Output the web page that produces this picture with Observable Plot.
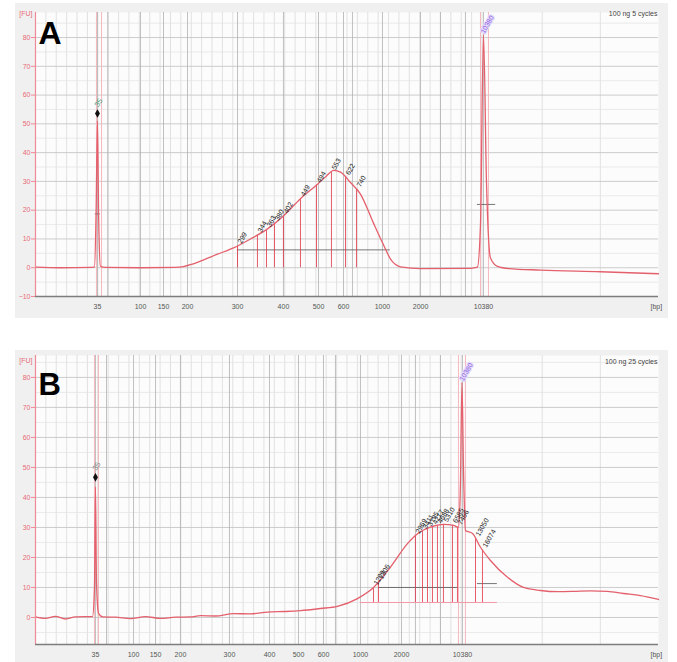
<!DOCTYPE html>
<html><head><meta charset="utf-8">
<script src="https://cdn.jsdelivr.net/npm/d3@7"></script>
<script src="https://cdn.jsdelivr.net/npm/@observablehq/plot@0.6"></script>
<style>
body{margin:0;background:#fff;font-family:"Liberation Sans",Arial,sans-serif}
#root{position:relative;width:677px;height:662px;overflow:hidden;background:#fff}
.bg{position:absolute;background:#f0f0f0}
.panel{position:absolute;left:0}
</style></head><body>
<div id="root">
<div class="bg" style="left:15px;top:3px;width:653px;height:315px"></div>
<div class="bg" style="left:15px;top:350px;width:653px;height:312px"></div>
<div class="panel" id="A" style="top:0"></div>
<div class="panel" id="B" style="top:340px"></div>
</div>
<script>
// ---------- data ----------
const xDomain = [38, 113]; // migration time [s]
const ladderBp = [35, 50, 100, 150, 200, 300, 400, 500, 600, 700, 1000, 2000, 3000, 7000, 10380];
const labeledBp = [35, 100, 150, 200, 300, 400, 500, 600, 1000, 2000, 10380];
const ladderTimeA = [45.46, 46.7, 50.64, 53.41, 56.30, 62.32, 67.85, 72.07, 75.08, 76.16, 79.77, 84.35, 86.75, 89.76, 91.93];
const ladderTimeB = [45.22, 46.55, 49.80, 52.45, 55.45, 61.35, 66.17, 69.66, 72.67, 74.11, 77.12, 82.06, 83.74, 86.75, 89.40];

const yDomainA = [-10, 88.7];
const yDomainB = [-9, 87.3];
const yTicksA = [-10, 0, 10, 20, 30, 40, 50, 60, 70, 80];
const yTicksB = [0, 10, 20, 30, 40, 50, 60, 70, 80];

const timeA = [38.0, 41.0, 44.6, 45.1, 45.3, 45.46, 45.6, 45.82, 46.4, 50.6, 54.8, 55.8, 56.8, 57.86, 59.91, 61.84, 63.88, 65.93, 67.85, 69.9, 71.95, 73.0, 73.9, 74.72, 75.92, 77.12, 78.69, 79.89, 80.74, 81.3, 81.94, 84.35, 90.4, 91.2, 91.57, 91.93, 92.29, 92.77, 93.62, 95.0, 98.8, 106.0, 113.0];
const fuA   = [0.2, 0.0, 0.1, 0.3, 20, 51, 18, 0.5, 0.1, 0.0, 0.1, 0.4, 1.2, 2.3, 4.7, 6.9, 10, 13.5, 18, 24, 29, 31.8, 33.8, 33.2, 29.6, 25.6, 15.5, 8, 3, 1.2, 0.3, -0.3, -0.2, 0.2, 15, 81, 30, 3.4, 0.5, -0.3, -0.8, -1.4, -2.1];

const timeB = [38.0, 39.2, 40.4, 41.6, 42.8, 44.0, 44.86, 45.1, 45.22, 45.34, 45.58, 46.07, 47.63, 49.44, 51.24, 53.05, 54.85, 56.66, 57.86, 59.67, 61.84, 63.88, 65.93, 68.09, 69.9, 72.31, 74.35, 76.76, 78.69, 80.74, 82.78, 83.99, 85.55, 87.11, 88.32, 88.92, 89.16, 89.34, 89.52, 89.76, 90.61, 91.57, 92.77, 94.82, 96.75, 98.79, 100.84, 102.76, 104.81, 106.86, 108.78, 110.83, 113.0];
const fuB   = [0.2, -0.3, 0.4, -0.5, 0.2, 0.3, 0.3, 10, 43.5, 12, 1.5, 0.2, 0.1, -0.4, 0.3, -0.3, 0.1, 0.2, 0.6, 0.5, 1.3, 1.2, 1.8, 2.0, 2.3, 3.0, 3.7, 6.3, 10, 16.8, 24.6, 27.9, 30.1, 31, 30.7, 30, 45, 78.3, 50, 29, 28, 23.4, 19, 13.4, 10, 9, 8.6, 8.7, 8.9, 8.7, 8, 7.3, 6];

const peakTimeA  = [62.32, 64.72, 65.81, 66.77, 67.85, 69.90, 71.83, 73.63, 75.32, 76.64];
const peakLabelA = ["299", "344", "363", "380", "402", "449", "494", "553", "622", "740"];
const peakTimeB  = [78.69, 79.29, 83.74, 84.59, 85.19, 85.79, 86.39, 87.11, 88.20, 88.80, 90.97, 91.81];
const peakLabelB = ["1209", "1306", "2969", "3411", "3795", "4217", "4688", "5310", "6585", "7466", "13050", "16074"];

const regionsA = [{t1: 62.3, t2: 80.7, fu: 6.2}, {t1: 45.2, t2: 45.8, fu: 18.7}, {t1: 91.2, t2: 93.4, fu: 22}];
const regionsB = [{t1: 79.3, t2: 88.8, fu: 10}, {t1: 91.2, t2: 93.6, fu: 11.3}];
const pinkRegionB = [{t1: 77.1, t2: 93.6, fu: 5}];
const pinkLinesA = [45.34, 45.95, 91.57, 92.53];
const pinkLinesB = [45.1, 45.58, 88.92, 89.76];

const markerFuA = 53.6, markerFuB = 46.7;
const samples = ["100 ng 5 cycles", "100 ng 25 cycles"];

// ---------- helpers ----------
const interp = (ts, vs) => t => {
  const i = Math.max(1, d3.bisectLeft(ts, t));
  const a = (t - ts[i - 1]) / (ts[i] - ts[i - 1]);
  return vs[i - 1] + a * (vs[i] - vs[i - 1]);
};
const PINK = "#ef8a96", RED = "#e4606c", DARK = "#e03446";

function panel(o) {
  const trace = o.time.map((t, i) => ({t, fu: o.fu[i]}));
  const f = interp(o.time, o.fu);
  const peaks = o.peakTimes.map((t, i) => ({t, fu: f(t), label: o.peakLabels[i]}));
  const ladder = ladderBp.map((bp, i) => ({bp, t: o.ladderTime[i]}));
  const labeled = ladder.filter(d => labeledBp.includes(d.bp));
  const lastT = o.ladderTime[o.ladderTime.length - 1];
  const minorX = d3.range(xDomain[0], lastT + 0.5, 1.25).concat([99, 106]);
  const minorY = d3.range(-5, o.yDomain[1], 5).filter(v => v > o.yDomain[0] && v % 10 !== 0);
  const majorY = d3.range(-10, o.yDomain[1], 10).filter(v => v >= o.yDomain[0]);
  return Plot.plot({
    width: 677, height: o.height,
    marginLeft: 35, marginRight: 19, marginTop: o.mt, marginBottom: o.mb,
    x: {domain: xDomain, axis: null},
    y: {domain: o.yDomain, axis: null},
    style: {background: "transparent", fontFamily: "Liberation Sans, Arial, sans-serif"},
    marks: [
      Plot.frame({fill: "#fcfcfc", stroke: "none"}),
      Plot.ruleX(minorX, {stroke: "#d6d6d6", strokeWidth: 0.7}),
      Plot.ruleY(minorY, {stroke: "#e2e2e2", strokeWidth: 0.7}),
      Plot.ruleY(majorY, {stroke: "#c6c6c6", strokeWidth: 0.9}),
      Plot.ruleX(o.ladderTime, {stroke: "#b0b0b0", strokeWidth: 0.8}),
      Plot.ruleX(o.pinkLines, {stroke: "#f4b0b8", strokeWidth: 0.9}),
      ...(o.pinkRegion ? [Plot.ruleY(o.pinkRegion, {x1: "t1", x2: "t2", y: "fu", stroke: "#f09aa4", strokeWidth: 1})] : []),
      Plot.ruleY(o.regions, {x1: "t1", x2: "t2", y: "fu", stroke: "#555", strokeWidth: 0.8}),
      Plot.ruleX(peaks, {x: "t", y1: o.peakBase, y2: "fu", stroke: DARK, strokeWidth: 0.8}),
      Plot.line(trace, {x: "t", y: "fu", stroke: RED, strokeWidth: 1.3, curve: "monotone-x"}),
      Plot.text(peaks, {x: "t", y: "fu", text: "label", rotate: -60, textAnchor: "start", dx: 2, dy: -3, fontSize: 7, fill: "#222"}),
      Plot.dot([{t: o.ladderTime[0], fu: o.markerFu}], {x: "t", y: "fu", symbol: "diamond", r: 2.6, fill: "#111"}),
      Plot.text([{t: o.ladderTime[0], fu: o.markerFu + 2.5}], {x: "t", y: "fu", text: () => "35", rotate: -60, textAnchor: "start", dx: -1, fontSize: 7.5, fill: o.markerColor}),
      Plot.text([{t: lastT, fu: o.upperFu}], {x: "t", y: "fu", text: () => "10380", rotate: -60, textAnchor: "start", dx: -1, fontSize: 7, fill: "#8d5fe0", stroke: "#e6dcfb", strokeWidth: 2.5, paintOrder: "stroke"}),
      // axes
      Plot.ruleX([xDomain[0]], {stroke: PINK, strokeWidth: 1.2}),
      Plot.ruleY([o.yDomain[0]], {stroke: "#7d7d7d", strokeWidth: 1.4}),
      Plot.axisY({ticks: o.yTicks, label: null, tickSize: 4, tickPadding: 1, fontSize: 7, color: PINK, stroke: PINK, fill: "#e86a78"}),
      Plot.text(labeled, {x: "t", text: d => String(d.bp), frameAnchor: "bottom", lineAnchor: "middle", dy: 10, fontSize: 7, fill: "#555"}),
      Plot.text(["[bp]"], {frameAnchor: "bottom-right", textAnchor: "start", lineAnchor: "middle", dx: -8, dy: 10, fontSize: 7, fill: "#555"}),
      Plot.text(["[FU]"], {frameAnchor: "top-left", textAnchor: "end", lineAnchor: "middle", dx: -3, dy: o.fuDy, fontSize: 7, fill: "#e86a78"}),
      Plot.text([o.sample], {frameAnchor: "top-right", textAnchor: "end", lineAnchor: "middle", dx: -1, dy: o.sampleDy, fontSize: 7, fill: "#444"}),
      Plot.text([o.letter], {frameAnchor: "top-left", textAnchor: "start", lineAnchor: "top", dx: 3, dy: o.letterDy, fontSize: o.letterSize, fontWeight: "bold", fill: "#000"})
    ]
  });
}

document.getElementById("A").append(panel({
  time: timeA, fu: fuA, ladderTime: ladderTimeA, yDomain: yDomainA, yTicks: yTicksA,
  height: 322, mt: 12, mb: 26, peakTimes: peakTimeA, peakLabels: peakLabelA, peakBase: 0,
  regions: regionsA, pinkLines: pinkLinesA, pinkRegion: null,
  markerFu: markerFuA, markerColor: "#4f9e7c", upperFu: 81.6,
  letter: "A", letterDy: 9, letterSize: 32, sample: samples[0], sampleDy: 1.5, fuDy: 1
}));
document.getElementById("B").append(panel({
  time: timeB, fu: fuB, ladderTime: ladderTimeB, yDomain: yDomainB, yTicks: yTicksB,
  height: 322, mt: 15, mb: 18, peakTimes: peakTimeB, peakLabels: peakLabelB, peakBase: 5,
  regions: regionsB, pinkLines: pinkLinesB, pinkRegion: pinkRegionB,
  markerFu: markerFuB, markerColor: "#7f8f86", upperFu: 79,
  letter: "B", letterDy: 17, letterSize: 31, sample: samples[1], sampleDy: 6, fuDy: 5
}));
</script>
</body></html>
